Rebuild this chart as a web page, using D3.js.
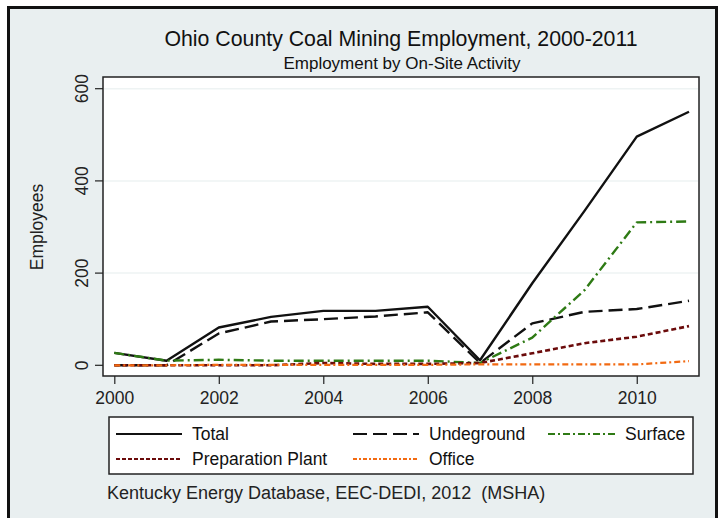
<!DOCTYPE html>
<html><head><meta charset="utf-8">
<script src="https://cdn.jsdelivr.net/npm/d3@7"></script>
<style>html,body{margin:0;padding:0;background:#fff;}svg{display:block;font-family:"Liberation Sans",Arial,sans-serif;}</style>
</head><body>
<script>
const years = [2000,2001,2002,2003,2004,2005,2006,2007,2008,2009,2010,2011];
const total       = [27,10,82,105,118,118,127,11,178,335,496,550];
const underground = [0,0,69,95,100,106,115,5,91,116,122,140];
const surface     = [27,10,12,10,10,10,10,5,60,163,310,312];
const prepPlant   = [0,0,0,0,5,3,3,5,26,48,62,85];
const office      = [0,0,1,1,1,1,1,2,2,2,2,9];
const yTicks = [0,200,400,600];
const xTicks = [2000,2002,2004,2006,2008,2010];
const seriesNames = ["Total","Undeground","Surface","Preparation Plant","Office"];

const W=723,H=518;
const svg=d3.select("body").append("svg").attr("width",W).attr("height",H);
svg.append("rect").attr("width",W).attr("height",H).attr("fill","#fff");
svg.append("rect").attr("x",8.5).attr("y",7.5).attr("width",708).attr("height",520)
  .attr("fill","#e9eff0").attr("stroke","#111").attr("stroke-width",3);

const pl=103,pr=699,pt=77,pb=376;
svg.append("rect").attr("x",pl).attr("y",pt).attr("width",pr-pl).attr("height",pb-pt)
  .attr("fill","#fff").attr("stroke","#222").attr("stroke-width",1.5);

const x=d3.scaleLinear().domain([2000,2011]).range([114.3,689]);
const y=d3.scaleLinear().domain([0,600]).range([365.3,88.7]);

// gridlines
svg.append("g").selectAll("line").data(yTicks.filter(d=>d>0)).join("line")
  .attr("x1",pl+1).attr("x2",pr-1).attr("y1",d=>y(d)).attr("y2",d=>y(d))
  .attr("stroke","#eef3f3").attr("stroke-width",1.5);

// y axis
const ya=svg.append("g").attr("transform",`translate(${pl},0)`)
  .call(d3.axisLeft(y).tickValues(yTicks).tickSize(8));
ya.select(".domain").remove();
ya.selectAll(".tick").attr("transform","translate(0,0)");
ya.selectAll(".tick line").attr("stroke","#222").attr("stroke-width",1.2)
  .attr("y1",d=>y(d)).attr("y2",d=>y(d)).attr("x2",-8);
ya.selectAll(".tick text").attr("font-size",17.5).attr("fill","#222")
  .attr("x",0).attr("y",0).attr("dy",0).attr("text-anchor","middle")
  .attr("transform",d=>`translate(-15,${y(d)}) rotate(-90)`);

// x axis
const xa=svg.append("g").attr("transform",`translate(0,${pb})`)
  .call(d3.axisBottom(x).tickValues(xTicks).tickFormat(d3.format("d")).tickSize(8).tickPadding(2));
xa.select(".domain").remove();
xa.selectAll("line").attr("stroke","#222").attr("stroke-width",1.2);
xa.selectAll("text").attr("font-size",17.5).attr("fill","#222").attr("dy","0.71em").attr("y",16);

// titles
svg.append("text").attr("x",401).attr("y",46).attr("text-anchor","middle")
  .attr("font-size",21.3).attr("fill","#111").text("Ohio County Coal Mining Employment, 2000-2011");
svg.append("text").attr("x",402).attr("y",69).attr("text-anchor","middle")
  .attr("font-size",17).attr("fill","#111").text("Employment by On-Site Activity");
svg.append("text").attr("transform","translate(43,227) rotate(-90)").attr("text-anchor","middle")
  .attr("font-size",17.5).attr("fill","#222").text("Employees");

const styles=[
  {data:total,color:"#111",dash:null,w:2.4},
  {data:underground,color:"#111",dash:"14,6",w:2.4},
  {data:surface,color:"#2e7a14",dash:"10,4,2,4",w:2.4},
  {data:prepPlant,color:"#6b0b0b",dash:"5,3",w:2.6},
  {data:office,color:"#f26a12",dash:"6,3,2,3",w:2.2}
];
const line=d3.line().x((d,i)=>x(years[i])).y(d=>y(d));
styles.forEach(s=>{
  svg.append("path").datum(s.data).attr("d",line).attr("fill","none")
    .attr("stroke",s.color).attr("stroke-width",s.w)
    .attr("stroke-dasharray",s.dash).attr("stroke-linejoin","round");
});

// legend
svg.append("rect").attr("x",109).attr("y",417).attr("width",584).attr("height",57)
  .attr("fill","#fff").attr("stroke","#222").attr("stroke-width",1.5);
const legPos=[[116,434],[353,434],[548,434],[116,459],[353,459]];
const legLen=[66,66,67,66,66];
const legStyles=[
  {dash:null},{dash:"14,6"},{dash:"7,3,2,3"},{dash:"4,2"},{dash:"4,2,2,2"}
];
seriesNames.forEach((n,i)=>{
  const [lx,ly]=legPos[i];
  svg.append("line").attr("x1",lx).attr("x2",lx+legLen[i]).attr("y1",ly).attr("y2",ly)
    .attr("stroke",styles[i].color).attr("stroke-width",2.2).attr("stroke-dasharray",legStyles[i].dash);
  svg.append("text").attr("x",lx+legLen[i]+10).attr("y",ly).attr("dy","0.36em")
    .attr("font-size",17.5).attr("fill","#111").text(n);
});

svg.append("text").attr("x",107).attr("y",499).attr("font-size",18).attr("fill","#222")
  .attr("xml:space","preserve").style("white-space","pre")
  .text("Kentucky Energy Database, EEC-DEDI, 2012  (MSHA)");
</script>
</body></html>
